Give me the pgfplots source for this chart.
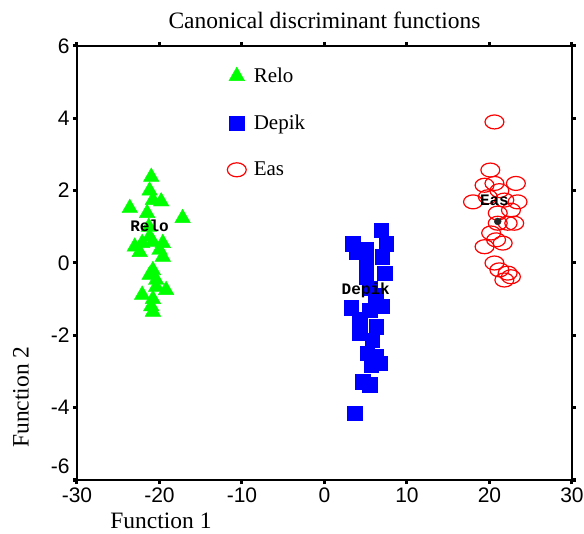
\documentclass[border=0pt]{standalone}
\usepackage{fontspec}
\setmainfont{Liberation Serif}
\newfontfamily\ticksfont{Liberation Sans}
\newfontfamily\labfont{Liberation Mono}
\usepackage{pgfplots}
\pgfplotsset{compat=1.18}
\definecolor{relo}{RGB}{0,255,0}
\definecolor{depik}{RGB}{0,0,255}
\definecolor{eas}{RGB}{255,0,0}

\begin{document}
\begin{tikzpicture}
\useasboundingbox (-77bp,-54bp) rectangle (507bp,480bp);
\begin{axis}[
  scale only axis,
  width=495bp, height=434bp,
  xmin=-30, xmax=30, ymin=-6, ymax=6,
  clip mode=individual,
  xtick={-30,-20,...,30},
  xticklabels={-30,-20,-10,0,10,20,30},
  ytick={-4,-2,...,6},
  yticklabels={-4,-2,0,2,4,6},
  extra y ticks={-6},
  extra y tick labels={-6},
  extra y tick style={yticklabel style={yshift=14bp}},
  tick align=outside,
  major tick length=4bp,
  tick style={line width=3bp, black},
  axis line style={line width=1.8bp},
  tick label style={font=\ticksfont\fontsize{21bp}{22bp}\selectfont},
  legend style={at={(axis cs:-11.8,5.45)}, anchor=north west,
    draw=none, fill=none, inner sep=0pt, row sep=27bp,
    font=\fontsize{21bp}{22bp}\selectfont},
  legend cell align=left,
  legend image code/.code={%
    \path[draw=none, fill=none] (-9bp,-7bp) rectangle (15bp,7bp);
    \draw[#1] plot coordinates {(0bp,0bp)};},
]
% Relo
\addplot[only marks, mark=triangle*, mark size=9bp, color=relo]
  coordinates {
  (-21.0,2.38) (-21.2,2.0) (-19.8,1.7) (-23.6,1.52) (-17.2,1.24)
  (-20.8,1.74) (-21.5,1.38) (-23.0,0.45) (-22.1,0.55) (-20.8,0.58)
  (-19.6,0.55) (-22.4,0.3) (-20.0,0.36) (-21.2,0.72) (-19.6,0.17)
  (-20.8,-0.2) (-21.2,-0.33) (-20.4,-0.47) (-19.2,-0.75) (-20.4,-0.66)
  (-22.1,-0.88) (-20.8,-1.0) (-21.0,-1.2) (-20.8,-1.35) (-21.3,1.0)
  };
\addlegendentry{Relo}
% Depik
\addplot[only marks, mark=square*, mark size=7.3bp, color=depik]
  coordinates {
  (6.87,0.91) (3.43,0.54) (7.48,0.54) (5.05,0.36) (3.84,0.31)
  (7.0,0.17) (5.05,0.0) (7.27,-0.28) (5.05,-0.38) (5.5,-0.7)
  (3.24,-1.24) (7.0,-1.2) (5.45,-1.3) (4.24,-1.57) (6.27,-1.76)
  (4.24,-1.93) (5.8,-2.13) (5.2,-2.49) (6.27,-2.59) (5.66,-2.82)
  (6.67,-2.77) (4.64,-3.28) (5.45,-3.37) (3.64,-4.15) (6.2,-0.9)
  };
\addlegendentry{Depik}
% Eas
\addplot[only marks, mark=o, mark size=7bp, color=eas,
  mark options={xscale=1.35, line width=1.2bp}]
  coordinates {
  (20.6,3.9) (20.1,2.57) (23.2,2.2) (19.4,2.15) (20.6,2.2)
  (21.2,2.0) (18.0,1.69) (23.4,1.69) (19.8,1.83) (21.8,1.74)
  (21.0,1.38) (22.6,1.46) (22.2,1.1) (21.0,1.1) (23.0,1.1)
  (20.2,0.83) (20.8,0.64) (19.4,0.45) (21.6,0.55) (20.6,0.0)
  (21.2,-0.19) (22.2,-0.28) (21.8,-0.47) (22.6,-0.38)
  };
\addlegendentry{Eas}
% centroid marks
\addplot[only marks, mark=*, mark size=3.5bp, color=black!85, forget plot]
  coordinates {(21.0,1.15)};
\node[font=\labfont\bfseries\fontsize{16bp}{16bp}\selectfont] at (axis cs:-21.2,1.02) {Relo};
\node[font=\labfont\bfseries\fontsize{16bp}{16bp}\selectfont] at (axis cs:5.0,-0.77) {Depik};
\node[font=\labfont\bfseries\fontsize{16bp}{16bp}\selectfont] at (axis cs:20.6,1.74) {Eas};
\node[font=\fontsize{23.5bp}{25bp}\selectfont] at ([yshift=26bp]rel axis cs:0.5,1) {Canonical discriminant functions};
\node[inner sep=0pt, font=\fontsize{23.5bp}{25bp}\selectfont] at ([xshift=84bp,yshift=-41bp]rel axis cs:0,0) {Function 1};
\node[font=\fontsize{23.5bp}{25bp}\selectfont, rotate=90] at ([xshift=-56bp,yshift=83bp]rel axis cs:0,0) {Function 2};
\end{axis}
\end{tikzpicture}
\end{document}
